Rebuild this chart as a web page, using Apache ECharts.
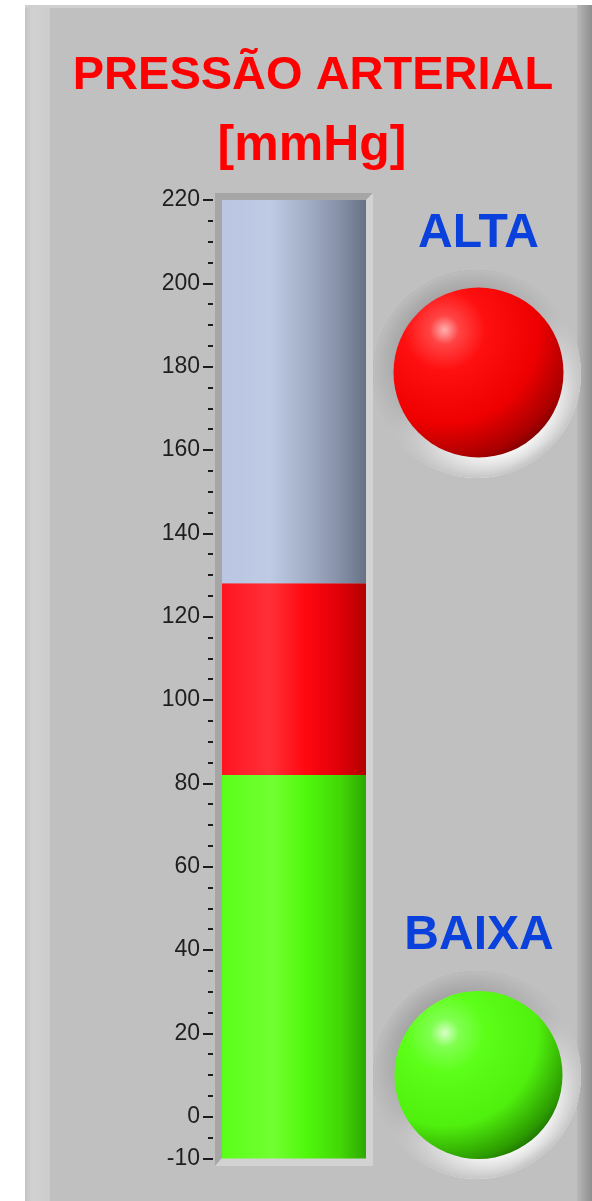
<!DOCTYPE html>
<html>
<head>
<meta charset="utf-8">
<script src="https://cdn.jsdelivr.net/npm/echarts@6/dist/echarts.min.js"></script>
<style>
html,body{margin:0;padding:0;background:#ffffff;}
#chart{width:592px;height:1201px;}
</style>
</head>
<body>
<div id="chart"></div>
<script>
// ---- data ----
const categories = ['Pressão'];
const scaleMin = -10;
const scaleMax = 220;
const majorTicks = [-10, 0, 20, 40, 60, 80, 100, 120, 140, 160, 180, 200, 220];
const minorStep = 5;
const diastolic = 82;   // green level
const systolic = 128;   // red level
const titleLines = ['PRESSÃO ARTERIAL', '[mmHg]'];
const ledLabels = ['ALTA', 'BAIXA'];

function hGrad(stops){
  return {type:'linear', x:0, y:0, x2:1, y2:0,
    colorStops: stops.map(s => ({offset:s[0], color:s[1]}))};
}
const greenFill = hGrad([[0,'#5aff18'],[0.35,'#72ff32'],[0.58,'#50f80c'],[0.82,'#42d806'],[1,'#2ea800']]);
const redFill = hGrad([[0,'#ff1420'],[0.33,'#ff3038'],[0.58,'#ff0810'],[0.82,'#e00008'],[1,'#b20000']]);
const blueFill = hGrad([[0,'#bac6e2'],[0.33,'#bfcae4'],[0.58,'#a4b0c8'],[0.8,'#8893aa'],[1,'#687286']]);

const chart = echarts.init(document.getElementById('chart'), null, {renderer:'canvas'});

const titleFont = 'bold 47px "Liberation Sans", Arial, sans-serif';
const unitFont = 'bold 50px "Liberation Sans", Arial, sans-serif';
const ledFont = 'bold 48px "Liberation Sans", Arial, sans-serif';
const bezelFill = {type:'linear', x:0.2, y:0.05, x2:0.8, y2:0.95, colorStops:[{offset:0,color:'#9c9c9c'},{offset:0.45,color:'#b6b6b6'},{offset:0.8,color:'#eeeeee'},{offset:0.92,color:'#ffffff'},{offset:1,color:'#d8d8d8'}]};
const bezelFade = {type:'radial', x:0.5, y:0.5, r:0.5, colorStops:[{offset:0,color:'rgba(192,192,192,0)'},{offset:0.8,color:'rgba(192,192,192,0)'},{offset:1,color:'rgba(192,192,192,0.9)'}]};

const option = {
  backgroundColor: '#ffffff',
  animation: false,
  grid: {left: 213, width: 162, top: 200, height: 958.4},
  xAxis: {type:'category', data: categories, show:false, boundaryGap:true},
  yAxis: [
    {
      type:'value', min: scaleMin, max: scaleMax, startValue: scaleMin, interval: minorStep, position:'left', offset:0,
      axisLine:{show:false}, splitLine:{show:false},
      axisTick:{show:true, length:10, customValues: majorTicks, lineStyle:{color:'#1c1c1c', width:2}},
      axisLabel:{show:true, customValues: majorTicks, margin:13, color:'#1e1e1e',
        fontSize:23, fontFamily:'"Liberation Sans", Arial, sans-serif'}
    },
    {
      type:'value', min: scaleMin, max: scaleMax, interval: minorStep, position:'left', offset:0,
      axisLine:{show:false}, splitLine:{show:false},
      axisTick:{show:true, length:5, lineStyle:{color:'#1c1c1c', width:2}},
      axisLabel:{show:false}
    }
  ],
  series: [
    {type:'bar', stack:'p', barWidth:144, data:[diastolic], itemStyle:{color:greenFill}, z:3},
    {type:'bar', stack:'p', barWidth:144, data:[systolic - diastolic], itemStyle:{color:redFill}, z:3},
    {type:'bar', stack:'p', barWidth:144, data:[scaleMax - systolic], itemStyle:{color:blueFill}, z:3}
  ],
  graphic: [
    {type:'rect', z:-10, shape:{x:25, y:5, width:567, height:1196}, style:{fill:'#c0c0c0'}},
    {type:'rect', z:-9, shape:{x:25, y:5, width:25, height:1196},
      style:{fill: hGrad([[0,'#c4c4c4'],[0.3,'#d2d2d2'],[1,'#cccccc']])}},
    {type:'rect', z:-9, shape:{x:25, y:5, width:567, height:3}, style:{fill:'#cfcfcf'}},
    {type:'rect', z:-9, shape:{x:577, y:5, width:15, height:1196},
      style:{fill: hGrad([[0,'#b8b8b8'],[1,'#8e8e8e']])}},
    {type:'polygon', z:-5, shape:{points:[[215,193],[373,193],[366,200],[222,200],[222,1158],[215,1166]]},
      style:{fill:'#a6a6a6'}},
    {type:'polygon', z:-5, shape:{points:[[373,193],[373,1166],[215,1166],[222,1158],[366,1158],[366,200]]},
      style:{fill:'#d2d2d2'}},
    {type:'text', z:5, x:313, y:76.5, style:{text:titleLines[0], font:titleFont, fill:'#ff0000', textAlign:'center', textVerticalAlign:'middle', verticalAlign:'middle'}},
    {type:'text', z:5, x:312, y:146, style:{text:titleLines[1], font:unitFont, fill:'#ff0000', textAlign:'center', textVerticalAlign:'middle', verticalAlign:'middle'}},
    {type:'text', z:5, x:478.5, y:233.5, style:{text:ledLabels[0], font:ledFont, fill:'#0a40dc', textAlign:'center', textVerticalAlign:'middle', verticalAlign:'middle'}},
    {type:'text', z:5, x:479, y:935.5, style:{text:ledLabels[1], font:ledFont, fill:'#0a40dc', textAlign:'center', textVerticalAlign:'middle', verticalAlign:'middle'}},
    {type:'circle', z:1, shape:{cx:477, cy:374, r:104}, style:{fill:bezelFill}},
    {type:'circle', z:1, shape:{cx:477, cy:374, r:104}, style:{fill:bezelFade}},
    {type:'circle', z:2, shape:{cx:478.5, cy:372.5, r:85},
      style:{fill:{type:'radial', x:0.3, y:0.25, r:0.85, colorStops:[{offset:0,color:'#ffb0b0'},{offset:0.1,color:'#ff4444'},{offset:0.28,color:'#ff1010'},{offset:0.65,color:'#ee0000'},{offset:0.9,color:'#a80000'},{offset:1,color:'#700000'}]}}},
    {type:'circle', z:1, shape:{cx:477, cy:1075, r:104}, style:{fill:bezelFill}},
    {type:'circle', z:1, shape:{cx:477, cy:1075, r:104}, style:{fill:bezelFade}},
    {type:'circle', z:2, shape:{cx:478.5, cy:1075, r:84},
      style:{fill:{type:'radial', x:0.3, y:0.25, r:0.85, colorStops:[{offset:0,color:'#d8ffc8'},{offset:0.1,color:'#80ff50'},{offset:0.28,color:'#5cff18'},{offset:0.65,color:'#50f00e'},{offset:0.9,color:'#2c9c00'},{offset:1,color:'#1a6800'}]}}}
  ]
};
chart.setOption(option);
</script>
</body>
</html>
